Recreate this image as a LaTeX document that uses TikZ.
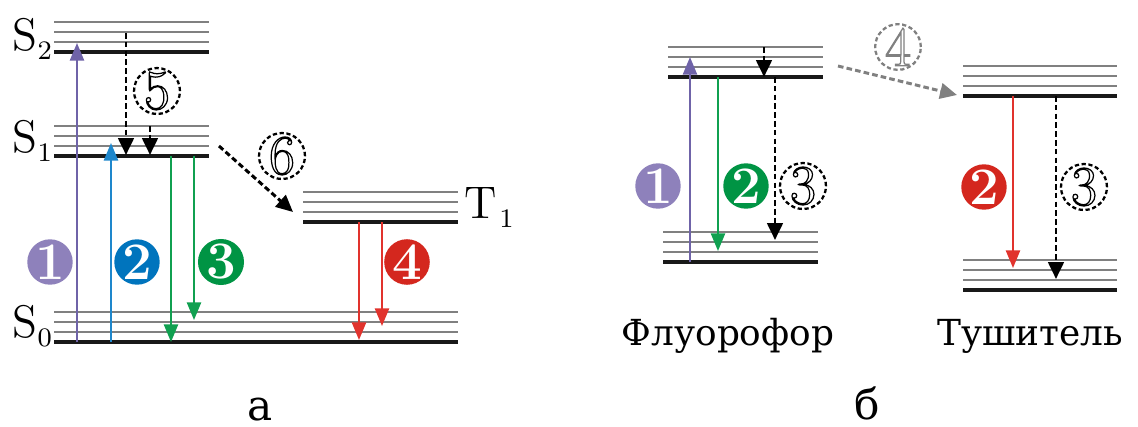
\documentclass[tikz,border=0pt]{standalone}
\usepackage{fontspec}
\newfontfamily\cyrfont{DejaVu Serif}
\usetikzlibrary{arrows.meta, positioning}
\definecolor{absviolet}{HTML}{6F63A8}
\definecolor{dotviolet}{HTML}{8E81BB}
\definecolor{fluoblue}{HTML}{1E87CC}
\definecolor{dotblue}{HTML}{0074BD}
\definecolor{fluogreen}{HTML}{10A050}
\definecolor{dotgreen}{HTML}{009444}
\definecolor{phosred}{HTML}{E1332D}
\definecolor{dotred}{HTML}{D4271E}
\definecolor{vibgray}{HTML}{808080}
\newcommand{\subidx}[1]{\raisebox{-2.6pt}{\fontsize{7.6}{8}\selectfont #1}}
\newcommand{\hollow}[1]{\special{pdf:literal direct 1 Tr 0.35 w}#1\special{pdf:literal direct 0 Tr}}
\tikzset{
x=0.01cm, y=-0.01cm, % one unit = one pixel of the drawing, y downwards
lvlline/.style={line width=1.05pt, black!90}, % lowest level of a state
vibline/.style={line width=0.8pt, vibgray}, % vibrational sublevels
trans/.style={line width=0.6pt, -{Triangle[length=5pt,width=4pt]}}, % radiative transitions
nonrad/.style={line width=0.85pt, dash pattern=on 1.6pt off 0.9pt, -{Triangle[length=4.8pt,width=4.4pt]}}, % nonradiative ones
numdot/.style={circle, fill=#1, text=white, minimum size=0.42cm, inner sep=0pt, font=\fontsize{15}{15}\selectfont\bfseries},
numring/.style={circle, draw=#1, line width=0.65pt, dash pattern=on 1.2pt off 0.75pt, minimum size=0.42cm, inner sep=0pt, text=#1, font=\fontsize{16}{16}\selectfont},
numring/.default=black,
termlbl/.style={inner sep=0pt, anchor=base west, font=\fontsize{13}{13}\selectfont},
}

\begin{document}
\begin{tikzpicture}
        \useasboundingbox (0,0) rectangle (1138,427);

        % energy levels: left end / right end / lowest line
        \foreach \xa/\xb/\yb in {54/209/52, 54/209/156, 54/458/342, 303/458/222,
                                 668/823/77, 663/818/262, 963/1117/96, 963/1117/290} {
            \foreach \d in {10,20,30} \draw[vibline] (\xa,\yb-\d) -- (\xb,\yb-\d);
            \draw[lvlline] (\xa,\yb) -- (\xb,\yb);
        }

        % (a) Jablonski diagram
        \node[termlbl] (S2) at (12,50) {S\subidx{2}};
        \node[termlbl] (S1) at (12,152) {S\subidx{1}};
        \node[termlbl] (S0) at (12,337) {S\subidx{0}};
        \node[termlbl] (T1) at (464,218) {T\kern0.05em\subidx{1}};

        \coordinate (abs-a0) at (77,342);   \coordinate (abs-a1) at (77,43);
        \coordinate (abs-b0) at (111,342);  \coordinate (abs-b1) at (111,143);
        \coordinate (fl-a0)  at (171,156);  \coordinate (fl-a1)  at (171,342);
        \coordinate (fl-b0)  at (194,156);  \coordinate (fl-b1)  at (194,320);
        \coordinate (ph-a0)  at (359,222);  \coordinate (ph-a1)  at (359,340);
        \coordinate (ph-b0)  at (382,222);  \coordinate (ph-b1)  at (382,326);
        \coordinate (ic-a0)  at (126,33);   \coordinate (ic-a1)  at (126,155);
        \coordinate (ic-b0)  at (150,126);  \coordinate (ic-b1)  at (150,155);
        \coordinate (isc0)   at (219,146);  \coordinate (isc1)   at (293,212);

        \node[numdot=dotviolet] (n1) at (50,262) {1};
        \node[numdot=dotblue]   (n2) at (137,262) {2};
        \node[numdot=dotgreen]  (n3) at (221,262) {3};
        \node[numdot=dotred]    (n4) at (407,262) {4};
        \node[numring] (n5) at (157,91) {\hollow{5}};
        \node[numring] (n6) at (282,156) {\hollow{6}};

        \draw
        (abs-a0) edge[trans, absviolet] (abs-a1)
        (abs-b0) edge[trans, fluoblue] (abs-b1)
        (fl-a0) edge[trans, fluogreen] (fl-a1)
        (fl-b0) edge[trans, fluogreen] (fl-b1)
        (ph-a0) edge[trans, phosred] (ph-a1)
        (ph-b0) edge[trans, phosred] (ph-b1)
        (ic-a0) edge[nonrad] (ic-a1)
        (ic-b0) edge[nonrad] (ic-b1)
        (isc0) edge[nonrad] (isc1);

        \node[font=\cyrfont\fontsize{12}{12}\selectfont, anchor=base] (cap-a) at (260,420) {а};

        % (b) fluorophore and quencher
        \coordinate (fabs0) at (690,262);  \coordinate (fabs1) at (690,57);
        \coordinate (fem0)  at (718,77);   \coordinate (fem1)  at (718,251);
        \coordinate (fic0)  at (764,47);   \coordinate (fic1)  at (764,77);
        \coordinate (fnr0)  at (775,77);   \coordinate (fnr1)  at (775,240);
        \coordinate (qem0)  at (1013,96);  \coordinate (qem1)  at (1013,268);
        \coordinate (qnr0)  at (1056,96);  \coordinate (qnr1)  at (1056,279);
        \coordinate (fret0) at (838,66);   \coordinate (fret1) at (957,95);

        \node[numdot=dotviolet] (m1) at (658,186) {1};
        \node[numdot=dotgreen]  (m2) at (746,186) {2};
        \node[numring]          (m3) at (803,186) {\hollow{3}};
        \node[numdot=dotred]    (q2) at (984,187) {2};
        \node[numring]          (q3) at (1084,187) {\hollow{3}};
        \node[numring=vibgray]  (m4) at (898,47) {\hollow{4}};

        \draw
        (fabs0) edge[trans, absviolet] (fabs1)
        (fem0) edge[trans, fluogreen] (fem1)
        (fic0) edge[nonrad] (fic1)
        (fnr0) edge[nonrad] (fnr1)
        (qem0) edge[trans, phosred] (qem1)
        (qnr0) edge[nonrad] (qnr1)
        (fret0) edge[nonrad, vibgray] (fret1);

        \node[font=\cyrfont\fontsize{10.2}{12}\selectfont, anchor=base] (fluor) at (728,345) {Флуорофор};
        \node[font=\cyrfont\fontsize{10.2}{12}\selectfont, anchor=base] (quench) at (1030,345) {Тушитель};
        \node[font=\cyrfont\fontsize{12}{12}\selectfont, anchor=base] (cap-b) at (867,419) {б};
\end{tikzpicture}
\end{document}
